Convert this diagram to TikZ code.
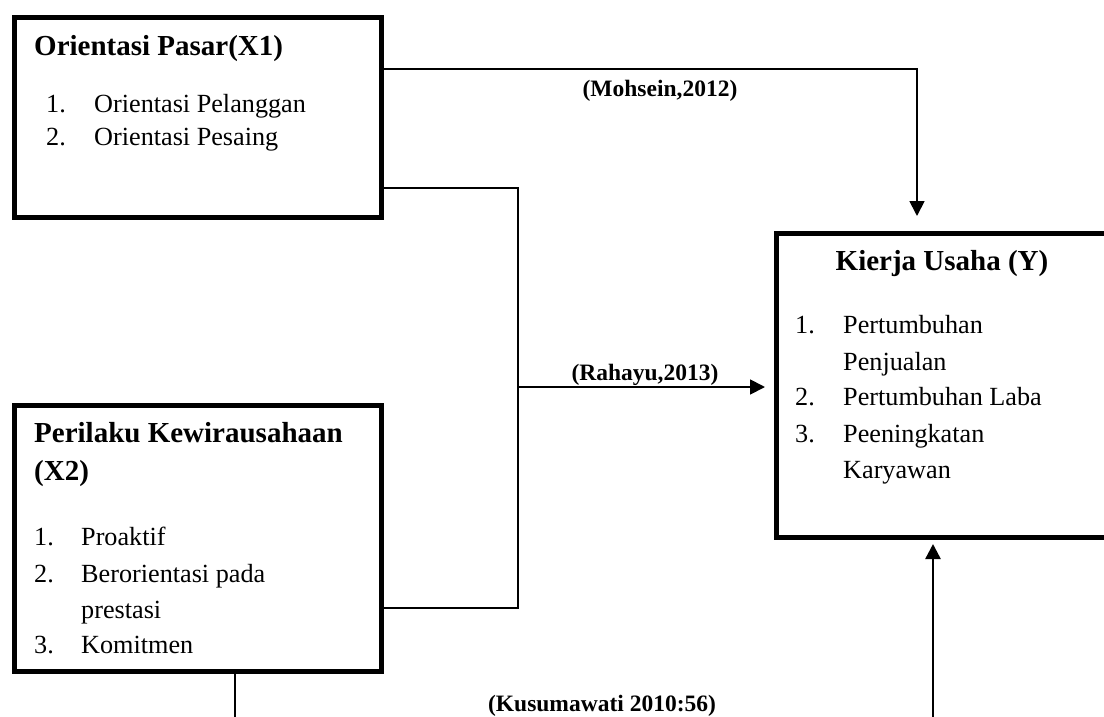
\documentclass[tikz,border=0pt]{standalone}
\usepackage{fontspec}
\setmainfont{Liberation Serif}
\usetikzlibrary{arrows.meta,calc}
\begin{document}
\begin{tikzpicture}[x=1pt,y=-1pt,
  box/.style={draw,line width=5pt,rectangle,inner sep=0pt,anchor=north west},
  conn/.style={line width=1.8pt},
  arr/.style={conn,-{Triangle[length=15pt,width=15pt]}},
  txt/.style={anchor=base west,inner sep=0pt,font=\fontsize{26.2}{32}\selectfont},
  ttl/.style={anchor=base west,inner sep=0pt,font=\fontsize{29}{35}\selectfont\bfseries},
  lbl/.style={anchor=base,inner sep=0pt,font=\fontsize{23.5}{28}\selectfont\bfseries}]
\useasboundingbox (0,0) rectangle (1104,717);
\clip (0,0) rectangle (1104,717);

% boxes
\node[box,minimum width=367pt,minimum height=200pt] (x1) at (12,15) {};
\node[box,minimum width=367pt,minimum height=266pt] (x2) at (12,403) {};
\node[box,minimum width=360pt,minimum height=304pt] (y) at (774,231) {};

% X1 texts
\node[ttl] (t1) at (34,56) {Orientasi Pasar(X1)};
\node[txt] (a1) at (46,113) {1.};
\node[txt] (a1t) at (94,113) {Orientasi Pelanggan};
\node[txt] (a2) at (46,146) {2.};
\node[txt] (a2t) at (94,146) {Orientasi Pesaing};

% X2 texts
\node[ttl] (t2) at (34,442) {Perilaku Kewirausahaan};
\node[ttl] (t2b) at (34,480) {(X2)};
\node[txt] (b1n) at (34,545) {1.};
\node[txt] (b1t) at (81,545) {Proaktif};
\node[txt] (b2n) at (34,582) {2.};
\node[txt] (b2t) at (81,582) {Berorientasi pada};
\node[txt] (b2u) at (81,618) {prestasi};
\node[txt] (b3n) at (34,653) {3.};
\node[txt] (b3t) at (81,653) {Komitmen};

% Y texts
\node[anchor=base,inner sep=0pt,font=\fontsize{29}{35}\selectfont\bfseries] (t3) at (942,270) {Kierja Usaha (Y)};
\node[txt] (c1n) at (795,333) {1.};
\node[txt] (c1t) at (843,333) {Pertumbuhan};
\node[txt] (c1u) at (843,370) {Penjualan};
\node[txt] (c2n) at (795,405) {2.};
\node[txt] (c2t) at (843,405) {Pertumbuhan Laba};
\node[txt] (c3n) at (795,442) {3.};
\node[txt] (c3t) at (843,442) {Peeningkatan};
\node[txt] (c3u) at (843,478) {Karyawan};

% connectors
\coordinate (k1) at (917,69);
\draw[arr] (x1.east |- k1) -- (k1) -- ($(y.north -| k1)+(0,-15)$);

\coordinate (j1) at (518,188);
\coordinate (j2) at (518,608);
\coordinate (j3) at (518,387);
\draw[conn] (x1.east |- j1) -- (j1) -- (j2) -- (x2.east |- j2);
\draw[arr] (j3) -- ($(y.west |- j3)+(-9,0)$);

\coordinate (e1) at (235,717);
\draw[conn,line width=2.6pt] (x2.south -| e1) -- (e1);
\coordinate (e2) at (933,717);
\draw[arr,line width=2.4pt] (e2) -- ($(y.south -| e2)+(0,4)$);

% labels
\node[lbl] (l1) at (660,97) {(Mohsein,2012)};
\node[lbl] (l2) at (645,380) {(Rahayu,2013)};
\node[lbl] (l3) at (602,711) {(Kusumawati 2010:56)};
\end{tikzpicture}
\end{document}
